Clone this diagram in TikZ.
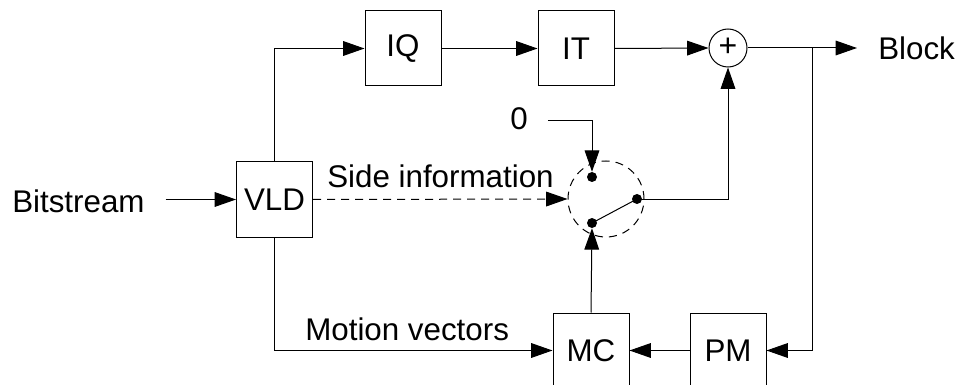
\documentclass[tikz,border=0pt]{standalone}
\usepackage{fontspec}
\setmainfont{Liberation Sans}
\usetikzlibrary{arrows.meta}

\begin{document}
\begin{tikzpicture}[x=0.75pt,y=-0.75pt,
  txt/.style={font=\fontsize{23.5}{28}\selectfont},
  blk/.style={draw, line width=0.75pt, txt, minimum width=57pt,
    minimum height=56.25pt, inner sep=0pt},
  lbl/.style={txt, inner sep=0pt},
  wire/.style={line width=0.75pt},
  sdash/.style={dash pattern=on 6pt off 4.5pt},
  >={Triangle[length=16pt,width=11pt]},
  dot/.style={fill, circle, inner sep=0pt, minimum size=7.5pt}]

\useasboundingbox (0,0) rectangle (958,385);

% processing blocks
\node[blk] (vld) at (274.5,199.5) {VLD};
\node[blk] (iq)  at (403,48.5) {IQ};
\node[blk] (it)  at (576,48.5) {IT};
\node[blk] (mc)  at (591,350.5) {MC};
\node[blk] (pm)  at (728,350.5) {PM};

% adder
\node[draw, circle, line width=0.75pt, minimum size=28.5pt, inner sep=0pt,
  font=\fontsize{24}{26}\selectfont] (sum) at (728,48) {\raisebox{1pt}{+}};

% selector switch
\node[draw, circle, line width=0.75pt, sdash, minimum size=57pt] (sw) at (606,199) {};
\node[dot] (s0) at (592,177) {};
\node[dot] (s1) at (592,223) {};
\node[dot] (so) at (637,199) {};
\draw[wire] (s1.center) -- (so.center);

% labels
\node[lbl, anchor=base west] (bits) at (12,212) {Bitstream};
\node[lbl, anchor=base west] (side) at (327,187) {Side information};
\node[lbl, anchor=base west] (mv)   at (305,340) {Motion vectors};
\node[lbl, anchor=base west] (blk)  at (878,60) {Block};
\node[lbl, anchor=base west] (zero) at (510,130) {0};

\coordinate (tap) at (812,48);
\coordinate (outend) at (857,48);

% connectors
\draw[wire,->] ([xshift=15.5pt]bits.east |- vld.west) -- (vld.west);
\draw[wire,->] (vld.north) |- (iq.west);
\draw[wire,->] (iq.east) -- (it.west);
\draw[wire,->] (it.east) -- (sum.west);
\draw[wire,->] (sum.east) -- (outend);
\draw[wire,->] (tap) |- (pm.east);
\draw[wire,->] (pm.west) -- (mc.west -| mc.east);
\draw[wire,->] (vld.south) |- (mc.west);
\draw[wire,->] (mc.north) -- (s1.south);
\draw[wire,->] ([xshift=15pt]zero.east |- 0,121) -| (s0.north);
\draw[wire,sdash,->] (vld.east) -- (sw.west);
\draw[wire,->] (so.center) -| (sum.south);
\end{tikzpicture}
\end{document}
